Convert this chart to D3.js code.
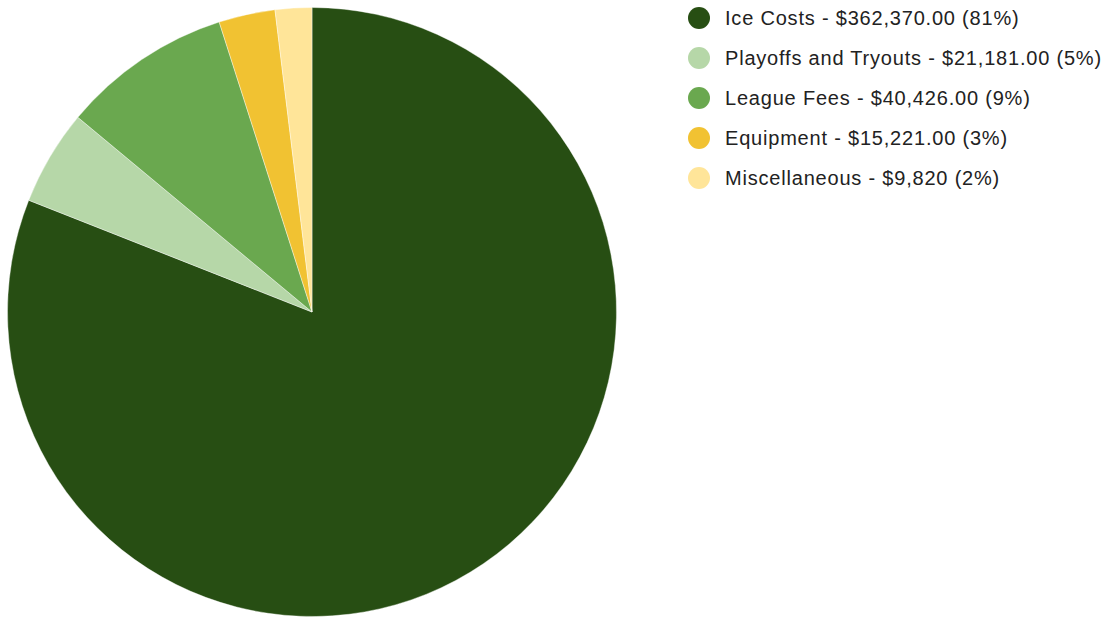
<!DOCTYPE html>
<html>
<head>
<meta charset="utf-8">
<script src="https://cdn.jsdelivr.net/npm/d3@7"></script>
<style>
  body { margin: 0; background: #fff; }
  svg { display: block; }
</style>
</head>
<body>
<svg id="chart"></svg>
<script>
const categories = ['Ice Costs', 'Playoffs and Tryouts', 'League Fees', 'Equipment', 'Miscellaneous'];
// slice shares (%)
const shares = [80.98, 5.06, 9.03, 2.99, 1.94];
const valueLabels = ['$362,370.00', '$21,181.00', '$40,426.00', '$15,221.00', '$9,820'];
const percentLabels = ['81%', '5%', '9%', '3%', '2%'];
const colors = ['#274e13', '#b6d7a8', '#6aa84f', '#f1c232', '#ffe599'];

const width = 1107, height = 618;
const cx = 312, cy = 312, radius = 304.5;

const svg = d3.select('#chart').attr('width', width).attr('height', height);

const data = categories.map((c, i) => ({ name: c, value: shares[i], color: colors[i], label: valueLabels[i], pct: percentLabels[i] }));

const pie = d3.pie().value(d => d.value).sort(null);
const arc = d3.arc().innerRadius(0).outerRadius(radius);

svg.append('g')
    .attr('transform', `translate(${cx},${cy})`)
    .selectAll('path')
    .data(pie(data))
    .enter().append('path')
    .attr('d', arc)
    .attr('fill', d => d.data.color)
    .attr('stroke', '#fff')
    .attr('stroke-width', 0.4);

// legend
const legend = svg.append('g').attr('transform', 'translate(699,18)');
const rows = legend.selectAll('g')
    .data(data)
    .enter().append('g')
    .attr('transform', (d, i) => `translate(0,${i * 40})`);

rows.append('circle')
    .attr('r', 11)
    .attr('fill', d => d.color);

rows.append('text')
    .attr('x', 26)
    .attr('y', 6.5)
    .attr('font-family', 'Arial, "Liberation Sans", sans-serif')
    .attr('font-size', 20)
    .attr('letter-spacing', 0.8)
    .attr('fill', '#222')
    .text(d => `${d.name} - ${d.label} (${d.pct})`);
</script>
</body>
</html>
